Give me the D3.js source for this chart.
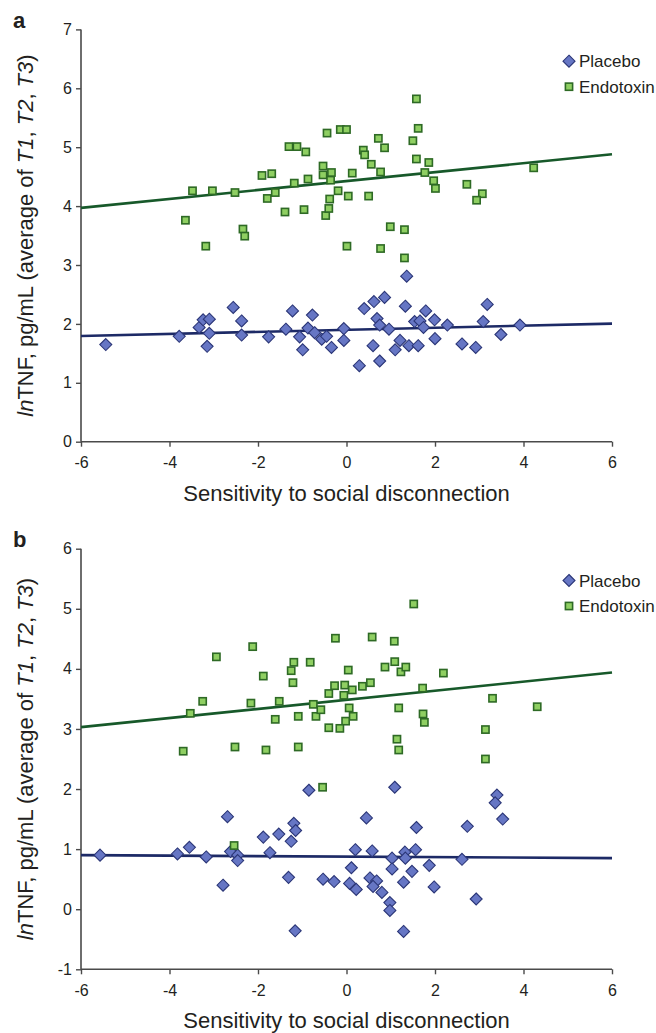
<!DOCTYPE html>
<html><head><meta charset="utf-8">
<script src="https://cdn.jsdelivr.net/npm/d3@7"></script>
<style>
body{margin:0;background:#fff}
svg{display:block}
text{font-family:"Liberation Sans",Arial,Helvetica,sans-serif;fill:#231f20}
</style>
</head><body>
<svg id="c" width="656" height="1033"></svg>
<script>
// ---------- data ----------
const xTicks = [-6, -4, -2, 0, 2, 4, 6];
const yTicksA = [0, 1, 2, 3, 4, 5, 6, 7];
const yTicksB = [-1, 0, 1, 2, 3, 4, 5, 6];
const seriesNames = ["Placebo", "Endotoxin"];
const panelLabels = ["a", "b"];
const xTitle = "Sensitivity to social disconnection";

const placeboA = [
  [-5.44,1.65],[-3.78,1.79],[-3.33,1.94],[-3.24,2.07],[-3.10,2.08],[-3.10,1.84],[-3.15,1.62],
  [-2.56,2.28],[-2.37,2.05],[-2.37,1.81],[-1.76,1.78],[-1.37,1.91],[-1.22,2.22],[-1.06,1.78],
  [-0.99,1.56],[-0.87,1.93],[-0.77,2.15],[-0.72,1.85],[-0.56,1.74],[-0.45,1.79],[-0.34,1.60],
  [-0.06,1.92],[-0.06,1.72],[0.29,1.29],[0.40,2.26],[0.62,2.38],[0.86,2.45],[0.69,2.09],
  [0.75,1.98],[0.96,1.91],[0.60,1.63],[0.75,1.37],[1.36,2.81],[1.33,2.30],[1.10,1.56],
  [1.21,1.72],[1.41,1.63],[1.54,2.04],[1.66,2.05],[1.79,2.22],[1.74,1.94],[1.62,1.63],
  [1.99,2.07],[2.00,1.75],[2.28,1.98],[2.61,1.66],[2.92,1.60],[3.09,2.04],[3.18,2.33],
  [3.49,1.82],[3.92,1.98]
];
const endotoxinA = [
  [-3.64,3.76],[-3.48,4.26],[-3.03,4.26],[-3.18,3.32],[-2.52,4.23],[-2.34,3.61],[-2.30,3.49],
  [-1.91,4.52],[-1.69,4.55],[-1.79,4.13],[-1.61,4.23],[-1.30,5.01],[-1.12,5.01],[-0.92,4.92],
  [-1.18,4.39],[-0.87,4.46],[-1.39,3.90],[-0.96,3.94],[-0.44,5.24],[-0.53,4.68],[-0.53,4.53],
  [-0.36,4.44],[-0.47,3.84],[-0.40,3.96],[-0.38,4.12],[-0.34,4.57],[-0.14,5.30],[0.00,5.30],
  [-0.19,4.26],[0.04,4.17],[0.13,4.56],[0.50,4.17],[0.38,4.95],[0.41,4.87],[0.56,4.71],
  [0.77,4.58],[0.72,5.15],[0.86,4.99],[1.58,5.82],[1.62,5.32],[1.50,5.11],[1.58,4.80],
  [1.86,4.74],[1.77,4.57],[1.97,4.43],[2.01,4.30],[2.72,4.37],[3.07,4.21],[2.94,4.10],
  [4.23,4.65],[0.99,3.65],[1.31,3.60],[0.01,3.32],[0.77,3.28],[1.31,3.12]
];
const placeboB = [
  [-5.57,0.90],[-3.82,0.92],[-3.55,1.03],[-3.17,0.87],[-2.79,0.40],[-2.69,1.54],[-2.62,0.96],
  [-2.46,0.90],[-2.46,0.81],[-1.88,1.20],[-1.73,0.94],[-1.53,1.25],[-1.31,0.53],[-1.25,1.13],
  [-1.19,1.43],[-1.15,1.31],[-1.16,-0.36],[-0.85,1.98],[-0.53,0.50],[-0.28,0.46],[1.09,2.03],
  [0.45,1.52],[0.20,0.99],[0.58,0.97],[0.11,0.69],[0.07,0.43],[0.22,0.33],[0.53,0.52],
  [0.68,0.47],[0.60,0.38],[0.80,0.28],[1.03,0.85],[1.03,0.67],[0.98,0.11],[0.98,-0.02],
  [1.29,-0.37],[1.29,0.45],[1.32,0.95],[1.33,0.85],[1.56,0.99],[1.48,0.63],[1.58,1.36],
  [1.87,0.73],[1.98,0.37],[2.61,0.83],[2.73,1.38],[2.93,0.17],[3.40,1.90],[3.36,1.77],
  [3.53,1.50]
];
const endotoxinB = [
  [-3.69,2.63],[-3.53,3.26],[-3.25,3.46],[-2.94,4.20],[-2.52,2.70],[-2.16,3.43],[-2.12,4.37],
  [-1.88,3.88],[-1.82,2.65],[-1.61,3.16],[-1.52,3.46],[-1.25,3.97],[-1.19,4.11],[-1.21,3.77],
  [-1.09,3.21],[-1.09,2.70],[-0.82,4.11],[-0.75,3.41],[-0.69,3.21],[-0.58,3.32],[-0.40,3.59],
  [-0.40,3.02],[-0.25,4.51],[0.04,3.98],[-0.27,3.72],[-0.04,3.73],[-0.06,3.56],[0.13,3.65],
  [0.36,3.71],[0.54,3.77],[0.58,4.53],[1.08,4.46],[0.87,4.03],[1.09,4.12],[1.23,3.95],
  [1.34,4.03],[1.52,5.08],[1.72,3.68],[2.19,3.93],[0.06,3.35],[0.15,3.21],[-0.02,3.13],
  [-0.15,3.01],[1.18,3.35],[1.73,3.25],[1.76,3.11],[3.30,3.51],[4.31,3.37],[3.14,2.99],
  [1.14,2.83],[1.18,2.65],[3.14,2.50],[-0.54,2.03],[-2.54,1.06]
];
// linear trend lines [intercept, slope]
const fitPlaceboA = [1.90, 0.0175];
const fitEndotoxinA = [4.425, 0.0758];
const fitPlaceboB = [0.875, -0.0042];
const fitEndotoxinB = [3.485, 0.0758];

// ---------- drawing ----------
const svg = d3.select("#c");
const FONT = '"Liberation Sans",Arial,Helvetica,sans-serif';
const style = {
  Placebo:   {fill:"#6676c4", stroke:"#2b3677", line:"#1d2a66"},
  Endotoxin: {fill:"#8fcf62", stroke:"#2e6a25", line:"#17592a"}
};

const panels = [
  {label:panelLabels[0], top:29.4, bottom:441.7, yDomain:[0,7], yTicks:yTicksA,
   series:[placeboA, endotoxinA], fits:[fitPlaceboA, fitEndotoxinA]},
  {label:panelLabels[1], top:548.7, bottom:969.3, yDomain:[-1,6], yTicks:yTicksB,
   series:[placeboB, endotoxinB], fits:[fitPlaceboB, fitEndotoxinB]}
];

const xLeft = 81, xRight = 612;
const fmt = d => String(d);   // plain hyphen-minus like the original

function marker(sel, name){
  if (name === "Placebo") {
    sel.append("path").attr("d","M0,-6L6,0L0,6L-6,0Z")
      .attr("fill",style.Placebo.fill).attr("stroke",style.Placebo.stroke).attr("stroke-width",1.1);
  } else {
    sel.append("rect").attr("x",-3.6).attr("y",-3.6).attr("width",7.2).attr("height",7.2)
      .attr("fill",style.Endotoxin.fill).attr("stroke",style.Endotoxin.stroke).attr("stroke-width",1.6);
  }
}

panels.forEach(p => {
  const x = d3.scaleLinear().domain([-6,6]).range([xLeft, xRight]);
  const y = d3.scaleLinear().domain(p.yDomain).range([p.bottom, p.top]);
  const g = svg.append("g");

  // axes
  const ax = g.append("g").attr("transform",`translate(0,${p.bottom})`)
    .call(d3.axisBottom(x).tickValues(xTicks).tickSize(5).tickPadding(10).tickFormat(fmt));
  const ay = g.append("g").attr("transform",`translate(${xLeft},0)`)
    .call(d3.axisLeft(y).tickValues(p.yTicks).tickSize(5).tickPadding(4).tickFormat(fmt));
  [ax, ay].forEach(a => {
    a.select(".domain").attr("stroke","#4a4a4a").attr("stroke-width",1.6);
    a.selectAll(".tick line").attr("stroke","#4a4a4a").attr("stroke-width",1.4);
    a.selectAll(".tick text").attr("font-family",FONT).attr("font-size",16).attr("fill","#231f20");
  });
  ax.select(".domain").attr("d",`M${xLeft},0H${xRight}`);
  ay.select(".domain").attr("d",`M0,${p.bottom}V${p.top}`);

  // trend lines
  seriesNames.forEach((name,i) => {
    const f = p.fits[i];
    const pts = [-6,6].map(v => [v, f[0] + f[1]*v]);
    g.append("path").datum(pts)
      .attr("d", d3.line().x(d=>x(d[0])).y(d=>y(d[1])))
      .attr("fill","none").attr("stroke",style[name].line).attr("stroke-width",2.6);
  });

  // points (placebo first, endotoxin on top)
  seriesNames.forEach((name,i) => {
    g.append("g").selectAll("g").data(p.series[i]).join("g")
      .attr("transform", d => `translate(${x(d[0])},${y(d[1])})`)
      .each(function(){ marker(d3.select(this), name); });
  });

  // legend
  seriesNames.forEach((name,i) => {
    const ly = p.top + 31.8 + i*25.5;
    const lg = g.append("g").attr("transform",`translate(569,${ly})`);
    marker(lg, name);
    lg.append("text").attr("x",10).attr("y",6).attr("font-size",17).text(name);
  });

  // panel label
  g.append("text").attr("x",13).attr("y",p.top - 1.5).attr("font-size",22)
    .attr("font-weight","bold").attr("fill","#111").text(p.label);

  // x title
  g.append("text").attr("x",(xLeft+xRight)/2).attr("y",p.bottom + 59)
    .attr("text-anchor","middle").attr("font-size",22).text(xTitle);

  // y title
  const yt = g.append("text")
    .attr("transform",`translate(33,${(p.top+p.bottom)/2}) rotate(-90)`)
    .attr("text-anchor","middle").attr("font-size",22);
  const parts = [["ln",true],["TNF, pg/mL (average of ",false],["T1",true],[", ",false],["T2",true],[", ",false],["T3",true],[")",false]];
  parts.forEach(([t,it]) => yt.append("tspan").attr("font-style", it ? "italic" : "normal").text(t));
});
</script>
</body></html>
